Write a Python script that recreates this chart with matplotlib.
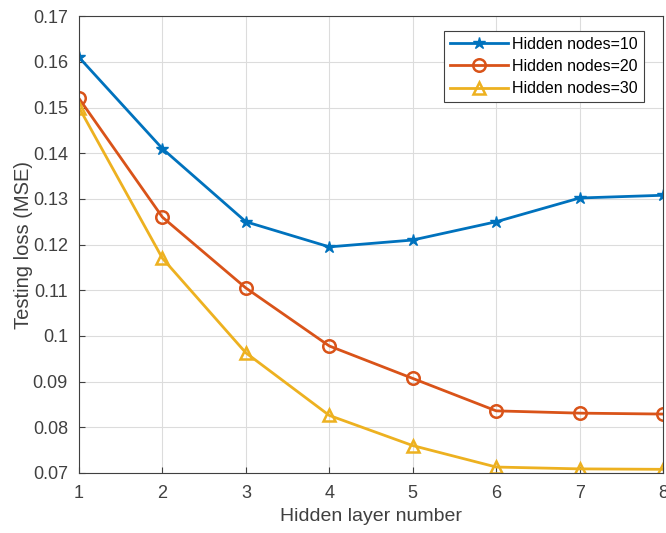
import numpy as np
import matplotlib.pyplot as plt

plt.rcParams['font.family'] = ['Liberation Sans', 'DejaVu Sans']

# Data
layers = [1, 2, 3, 4, 5, 6, 7, 8]
loss_10 = [0.161, 0.141, 0.125, 0.1195, 0.121, 0.125, 0.1302, 0.1308]
loss_20 = [0.152, 0.126, 0.1105, 0.0978, 0.0907, 0.0836, 0.0831, 0.0829]
loss_30 = [0.150, 0.117, 0.0963, 0.0826, 0.0760, 0.0713, 0.0709, 0.0708]
labels = ['Hidden nodes=10', 'Hidden nodes=20', 'Hidden nodes=30']

fig = plt.figure(figsize=(6.66, 5.33), dpi=100)
ax = fig.add_axes([0.1186, 0.1126, 0.877, 0.857])

ax.plot(layers, loss_10, color='#0072BD', lw=2, marker='*', ms=9, label=labels[0])
ax.plot(layers, loss_20, color='#D95319', lw=2, marker='o', ms=9, mfc='none', mew=1.8, label=labels[1])
ax.plot(layers, loss_30, color='#EDB120', lw=2, marker='^', ms=9, mfc='none', mew=1.8, label=labels[2])

ax.set_xlim(1, 8)
ax.set_ylim(0.07, 0.17)
ax.set_xticks(layers)
yt = np.round(np.arange(0.07, 0.1701, 0.01), 2)
ax.set_yticks(yt)
ax.set_yticklabels([f'{v:g}' for v in yt])
ax.grid(True, color='#dcdcdc', lw=0.8)
ax.tick_params(direction='in', labelsize=13, colors='#404040', length=4)
ax.tick_params(axis='x', pad=9)
ax.tick_params(axis='y', pad=8)
for s in ax.spines.values():
    s.set_color('#404040')
    s.set_linewidth(0.8)

ax.set_xlabel('Hidden layer number', fontsize=14, color='#404040', labelpad=4)
ax.set_ylabel('Testing loss (MSE)', fontsize=14.5, color='#404040', labelpad=0)

leg = ax.legend(loc='upper right', bbox_to_anchor=(0.972, 0.974), fontsize=11.5,
                fancybox=False, edgecolor='#404040', framealpha=1,
                handlelength=3.6, borderpad=0.35, labelspacing=0.45, handletextpad=0.3,
                borderaxespad=0.2)
leg.get_frame().set_linewidth(0.8)

fig.savefig('out.png', dpi=100)
